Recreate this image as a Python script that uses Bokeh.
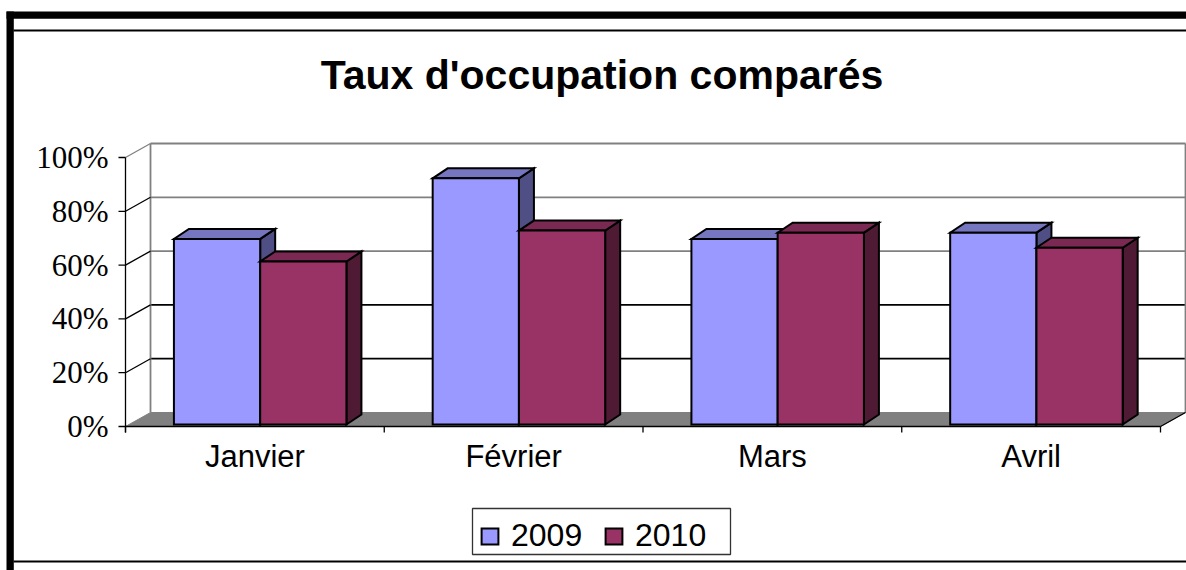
import numpy as np
from bokeh.plotting import figure
from bokeh.models import Range1d, Legend, LegendItem
from bokeh.embed import file_html
from bokeh.resources import INLINE
from bokeh.core.properties import value

# ---------------- data ----------------
title = "Taux d'occupation comparés"
months = ["Janvier", "Février", "Mars", "Avril"]
series = ["2009", "2010"]
v2009 = [69.0, 91.5, 69.0, 71.3]
v2010 = [60.6, 72.1, 71.3, 65.7]
y_ticks = [0, 20, 40, 60, 80, 100]
y_tick_labels = ["0%", "20%", "40%", "60%", "80%", "100%"]

# ---------------- layout ----------------
W, H = 1186, 570
PAGE_L, PAGE_T = 0, 0
AX_X0, CAT_W = 125.0, 258.75      # front-left of category axis, px per category
AX_Y0, PCT_H = 426.0, 2.69        # front 0% line, px per percent


def xd(px):
    return (px - AX_X0) / CAT_W


def yd(py):
    return (AX_Y0 - py) / PCT_H


WX, WY = 25 / CAT_W, 14 / PCT_H      # wall/floor depth
FX, FY = 5.3 / CAT_W, 2 / PCT_H      # bar front face offset
BX, BY = 15 / CAT_W, 10 / PCT_H      # bar depth

n = len(months)

p = figure(width=W, height=H, x_range=Range1d(xd(PAGE_L), xd(PAGE_L + W)),
           y_range=Range1d(yd(PAGE_T + H), yd(PAGE_T)),
           output_backend="svg", toolbar_location=None, min_border=0,
           x_axis_location=None, y_axis_location=None)
p.grid.visible = False
p.outline_line_color = None
p.background_fill_color = "white"
p.border_fill_color = "white"

GRAY = "#808080"

# outer frame
p.quad(left=[xd(6)], right=[xd(13.3)], top=[yd(11)], bottom=[yd(600)], fill_color="black", line_color=None)
p.quad(left=[xd(6)], right=[xd(1200)], top=[yd(11)], bottom=[yd(18.3)], fill_color="black", line_color=None)
p.line([xd(13), xd(1200)], [yd(30), yd(30)], line_color="black", line_width=2)
p.line([xd(13), xd(1200)], [yd(561), yd(561)], line_color="black", line_width=2)

# back wall gridlines
grid_t = y_ticks[1:]
p.multi_line(xs=[[WX, n + WX] for t in grid_t], ys=[[t + WY, t + WY] for t in grid_t],
             line_color=["black" if t < 60 else GRAY for t in grid_t], line_width=1.8)
p.multi_line(xs=[[WX, WX], [n + WX, n + WX]], ys=[[WY, 100 + WY], [WY, 100 + WY]],
             line_color=GRAY, line_width=1.8)
# side wall diagonals
p.multi_line(xs=[[0, WX] for t in grid_t], ys=[[t, t + WY] for t in grid_t],
             line_color=[GRAY if t == 100 else "black" for t in grid_t], line_width=1.3)

# floor
p.patch([0, n, n + WX, WX], [0, 0, WY, WY], fill_color=GRAY, line_color=GRAY, line_width=1)
p.line([n, n + WX], [0, WY], line_color="black", line_width=1.2)
p.line([0, n], [0, 0], line_color="black", line_width=1.5)

# axes lines & ticks
p.line([0, 0], [yd(432), 100], line_color="black", line_width=1.3)
p.multi_line(xs=[[xd(118), 0] for t in y_ticks], ys=[[t, t] for t in y_ticks],
             line_color="black", line_width=1.3)
p.multi_line(xs=[[i, i] for i in range(n + 1)], ys=[[0, yd(432)] for i in range(n + 1)],
             line_color="black", line_width=1.3)

# bars
styles = [("#9999FF", "#7575C0", "#4F4F86"), ("#993366", "#7A2952", "#4E1A34")]
front_renderers = []
for s, vals in enumerate([v2009, v2010]):
    front_c, top_c, side_c = styles[s]
    fxs, fys, txs, tys, sxs, sys_ = [], [], [], [], [], []
    for i, v in enumerate(vals):
        x0 = i + 1 / 6 + s / 3 + FX
        x1 = x0 + 1 / 3
        y0 = FY
        y1 = FY + v
        fxs.append([x0, x1, x1, x0]); fys.append([y0, y0, y1, y1])
        txs.append([x0, x1, x1 + BX, x0 + BX]); tys.append([y1, y1, y1 + BY, y1 + BY])
        sxs.append([x1, x1 + BX, x1 + BX, x1]); sys_.append([y0, y0 + BY, y1 + BY, y1])
    p.patches(sxs, sys_, fill_color=side_c, line_color="black", line_width=2, line_join="miter")
    p.patches(txs, tys, fill_color=top_c, line_color="black", line_width=2, line_join="miter")
    r = p.patches(fxs, fys, fill_color=front_c, line_color="black", line_width=2, line_join="miter")
    front_renderers.append(r)

# y tick labels
p.text(x=[xd(108)] * len(y_ticks), y=y_ticks, text=y_tick_labels,
       text_font=value("Liberation Serif"), text_font_size="31px",
       text_align="right", text_baseline="middle", text_color="black")

# category labels
p.text(x=[i + 0.5 for i in range(n)], y=[yd(456)] * n, text=months,
       text_font=value("Liberation Sans"), text_font_size="31px",
       text_align="center", text_baseline="middle", text_color="black")

# title
p.text(x=[xd(601.5)], y=[yd(74)], text=[title],
       text_font=value("Liberation Sans"), text_font_style="bold", text_font_size="41px",
       text_align="center", text_baseline="middle", text_color="black")

# legend box
p.quad(left=[xd(472)], right=[xd(730)], top=[yd(508)], bottom=[yd(554)],
       fill_color="white", line_color="#333333", line_width=1.3)

# legend
legend = Legend(items=[LegendItem(label=series[k], renderers=[front_renderers[k]]) for k in range(2)],
                orientation="horizontal", location=(479, H - 554),
                glyph_width=21, glyph_height=20, label_standoff=11, spacing=17,
                padding=5, margin=0, label_width=75,
                label_text_font="Liberation Sans", label_text_font_size="32px",
                label_text_color="black",
                border_line_color=None, background_fill_alpha=0.0)
p.add_layout(legend, "center")

open("out.html", "w").write(file_html(p, INLINE))
